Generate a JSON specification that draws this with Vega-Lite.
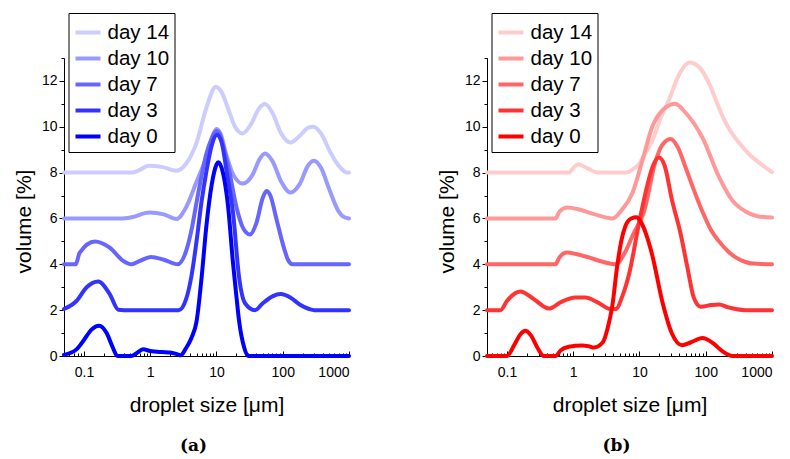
{
  "$schema": "https://vega.github.io/schema/vega-lite/v6.json",
  "padding": {"left": 13, "top": 12, "right": 5, "bottom": 5},
  "spacing": 79,
  "config": {
    "view": {"stroke": null},
    "font": "Liberation Sans",
    "axis": {"grid": false, "domainColor": "black", "tickColor": "black", "labelColor": "black", "titleColor": "black", "labelFontSize": 14, "titleFontSize": 21, "titleFontWeight": "normal", "labelFont": "Liberation Sans", "titleFont": "Liberation Sans"},
    "legend": {"labelFont": "Liberation Sans"}
  },
  "datasets": {
    "a": [
      {"day":"day 14","x":0.05,"y":8.0},{"day":"day 14","x":0.52,"y":8.0},{"day":"day 14","x":0.7,"y":8.12},{"day":"day 14","x":0.93,"y":8.3},{"day":"day 14","x":1.5,"y":8.25},{"day":"day 14","x":2.46,"y":8.08},{"day":"day 14","x":3.5,"y":8.4},{"day":"day 14","x":5,"y":9.3},{"day":"day 14","x":7,"y":10.8},{"day":"day 14","x":9.8,"y":11.75},{"day":"day 14","x":12,"y":11.5},{"day":"day 14","x":15.4,"y":10.7},{"day":"day 14","x":19,"y":10.0},{"day":"day 14","x":24.8,"y":9.71},{"day":"day 14","x":33,"y":10.1},{"day":"day 14","x":44,"y":10.8},{"day":"day 14","x":54,"y":10.99},{"day":"day 14","x":70,"y":10.6},{"day":"day 14","x":95,"y":9.7},{"day":"day 14","x":131,"y":9.31},{"day":"day 14","x":180,"y":9.6},{"day":"day 14","x":240,"y":9.95},{"day":"day 14","x":290,"y":10.0},{"day":"day 14","x":380,"y":9.7},{"day":"day 14","x":520,"y":8.9},{"day":"day 14","x":700,"y":8.3},{"day":"day 14","x":940,"y":8.0},{"day":"day 14","x":1000,"y":8.0},
      {"day":"day 10","x":0.05,"y":6.0},{"day":"day 10","x":0.37,"y":6.0},{"day":"day 10","x":0.52,"y":6.05},{"day":"day 10","x":0.97,"y":6.26},{"day":"day 10","x":1.6,"y":6.18},{"day":"day 10","x":2.5,"y":5.98},{"day":"day 10","x":3.5,"y":6.5},{"day":"day 10","x":5,"y":7.6},{"day":"day 10","x":7,"y":8.66},{"day":"day 10","x":8.5,"y":9.5},{"day":"day 10","x":10,"y":9.9},{"day":"day 10","x":11.5,"y":9.7},{"day":"day 10","x":14,"y":8.8},{"day":"day 10","x":18,"y":7.9},{"day":"day 10","x":25,"y":7.52},{"day":"day 10","x":35,"y":7.9},{"day":"day 10","x":45,"y":8.6},{"day":"day 10","x":54,"y":8.83},{"day":"day 10","x":70,"y":8.5},{"day":"day 10","x":95,"y":7.6},{"day":"day 10","x":131,"y":7.13},{"day":"day 10","x":180,"y":7.5},{"day":"day 10","x":240,"y":8.3},{"day":"day 10","x":294,"y":8.52},{"day":"day 10","x":380,"y":8.2},{"day":"day 10","x":500,"y":7.3},{"day":"day 10","x":700,"y":6.3},{"day":"day 10","x":850,"y":6.05},{"day":"day 10","x":1000,"y":6.0},
      {"day":"day 7","x":0.05,"y":4.0},{"day":"day 7","x":0.075,"y":4.0},{"day":"day 7","x":0.086,"y":4.5},{"day":"day 7","x":0.146,"y":5.0},{"day":"day 7","x":0.245,"y":4.73},{"day":"day 7","x":0.39,"y":4.15},{"day":"day 7","x":0.52,"y":4.0},{"day":"day 7","x":0.7,"y":4.15},{"day":"day 7","x":1.03,"y":4.32},{"day":"day 7","x":1.6,"y":4.2},{"day":"day 7","x":2.6,"y":4.0},{"day":"day 7","x":3.5,"y":4.6},{"day":"day 7","x":4.2,"y":5.5},{"day":"day 7","x":5,"y":6.7},{"day":"day 7","x":6,"y":7.9},{"day":"day 7","x":7,"y":8.8},{"day":"day 7","x":8.5,"y":9.5},{"day":"day 7","x":10,"y":9.82},{"day":"day 7","x":11.5,"y":9.6},{"day":"day 7","x":13,"y":9.0},{"day":"day 7","x":15,"y":8.3},{"day":"day 7","x":20,"y":6.5},{"day":"day 7","x":25,"y":5.6},{"day":"day 7","x":32,"y":5.3},{"day":"day 7","x":40,"y":5.8},{"day":"day 7","x":50,"y":6.9},{"day":"day 7","x":57,"y":7.2},{"day":"day 7","x":65,"y":7.0},{"day":"day 7","x":80,"y":6.0},{"day":"day 7","x":100,"y":4.9},{"day":"day 7","x":120,"y":4.2},{"day":"day 7","x":141,"y":4.0},{"day":"day 7","x":1000,"y":4.0},
      {"day":"day 3","x":0.05,"y":2.05},{"day":"day 3","x":0.077,"y":2.4},{"day":"day 3","x":0.11,"y":3.0},{"day":"day 3","x":0.164,"y":3.25},{"day":"day 3","x":0.245,"y":2.7},{"day":"day 3","x":0.33,"y":2.02},{"day":"day 3","x":0.4,"y":2.0},{"day":"day 3","x":2.7,"y":2.0},{"day":"day 3","x":3.5,"y":2.5},{"day":"day 3","x":4.2,"y":3.5},{"day":"day 3","x":5,"y":5.0},{"day":"day 3","x":6,"y":6.8},{"day":"day 3","x":7,"y":8.0},{"day":"day 3","x":8.5,"y":9.2},{"day":"day 3","x":10.2,"y":9.65},{"day":"day 3","x":12,"y":9.3},{"day":"day 3","x":14.5,"y":7.9},{"day":"day 3","x":17.7,"y":6.3},{"day":"day 3","x":22,"y":3.4},{"day":"day 3","x":27,"y":2.3},{"day":"day 3","x":38,"y":2.0},{"day":"day 3","x":50,"y":2.3},{"day":"day 3","x":70,"y":2.6},{"day":"day 3","x":93,"y":2.7},{"day":"day 3","x":130,"y":2.55},{"day":"day 3","x":180,"y":2.25},{"day":"day 3","x":250,"y":2.05},{"day":"day 3","x":300,"y":2.0},{"day":"day 3","x":1000,"y":2.0},
      {"day":"day 0","x":0.05,"y":0.05},{"day":"day 0","x":0.078,"y":0.3},{"day":"day 0","x":0.1,"y":0.7},{"day":"day 0","x":0.13,"y":1.15},{"day":"day 0","x":0.17,"y":1.32},{"day":"day 0","x":0.22,"y":1.0},{"day":"day 0","x":0.27,"y":0.4},{"day":"day 0","x":0.32,"y":0.0},{"day":"day 0","x":0.52,"y":0.0},{"day":"day 0","x":0.62,"y":0.12},{"day":"day 0","x":0.78,"y":0.29},{"day":"day 0","x":1.0,"y":0.22},{"day":"day 0","x":1.5,"y":0.17},{"day":"day 0","x":2.0,"y":0.15},{"day":"day 0","x":2.6,"y":0.07},{"day":"day 0","x":2.9,"y":0.03},{"day":"day 0","x":3.4,"y":0.3},{"day":"day 0","x":4.2,"y":0.8},{"day":"day 0","x":5,"y":1.5},{"day":"day 0","x":6,"y":3.5},{"day":"day 0","x":7,"y":5.6},{"day":"day 0","x":8.5,"y":7.5},{"day":"day 0","x":10,"y":8.35},{"day":"day 0","x":10.7,"y":8.45},{"day":"day 0","x":12.5,"y":8.0},{"day":"day 0","x":15,"y":6.5},{"day":"day 0","x":17.7,"y":4.1},{"day":"day 0","x":20,"y":2.6},{"day":"day 0","x":22,"y":1.5},{"day":"day 0","x":26,"y":0.4},{"day":"day 0","x":30,"y":0.0},{"day":"day 0","x":1000,"y":0.0}
    ],
    "b": [
      {"day":"day 14","x":0.05,"y":8.0},{"day":"day 14","x":0.86,"y":8.0},{"day":"day 14","x":1.0,"y":8.2},{"day":"day 14","x":1.2,"y":8.37},{"day":"day 14","x":1.6,"y":8.2},{"day":"day 14","x":2.4,"y":8.0},{"day":"day 14","x":6.2,"y":8.0},{"day":"day 14","x":8,"y":8.15},{"day":"day 14","x":9.8,"y":8.37},{"day":"day 14","x":12,"y":8.8},{"day":"day 14","x":15.6,"y":9.4},{"day":"day 14","x":21,"y":10.4},{"day":"day 14","x":28,"y":11.2},{"day":"day 14","x":40,"y":12.3},{"day":"day 14","x":57,"y":12.8},{"day":"day 14","x":80,"y":12.6},{"day":"day 14","x":112,"y":11.9},{"day":"day 14","x":150,"y":11.0},{"day":"day 14","x":190,"y":10.3},{"day":"day 14","x":254,"y":9.68},{"day":"day 14","x":330,"y":9.25},{"day":"day 14","x":453,"y":8.8},{"day":"day 14","x":700,"y":8.35},{"day":"day 14","x":1000,"y":8.02},
      {"day":"day 10","x":0.05,"y":6.0},{"day":"day 10","x":0.54,"y":6.0},{"day":"day 10","x":0.62,"y":6.3},{"day":"day 10","x":0.81,"y":6.48},{"day":"day 10","x":1.2,"y":6.4},{"day":"day 10","x":2,"y":6.2},{"day":"day 10","x":3.9,"y":6.0},{"day":"day 10","x":5.5,"y":6.4},{"day":"day 10","x":7.8,"y":7.1},{"day":"day 10","x":11,"y":8.5},{"day":"day 10","x":15.6,"y":10.0},{"day":"day 10","x":22,"y":10.7},{"day":"day 10","x":34.4,"y":11.0},{"day":"day 10","x":50,"y":10.6},{"day":"day 10","x":89,"y":9.53},{"day":"day 10","x":159,"y":7.8},{"day":"day 10","x":250,"y":6.8},{"day":"day 10","x":400,"y":6.3},{"day":"day 10","x":600,"y":6.1},{"day":"day 10","x":1000,"y":6.04},
      {"day":"day 7","x":0.05,"y":4.0},{"day":"day 7","x":0.54,"y":4.0},{"day":"day 7","x":0.62,"y":4.3},{"day":"day 7","x":0.81,"y":4.51},{"day":"day 7","x":1.1,"y":4.45},{"day":"day 7","x":1.72,"y":4.3},{"day":"day 7","x":2.7,"y":4.12},{"day":"day 7","x":4.36,"y":4.0},{"day":"day 7","x":6,"y":4.5},{"day":"day 7","x":8,"y":5.3},{"day":"day 7","x":11.7,"y":6.3},{"day":"day 7","x":17.5,"y":8.5},{"day":"day 7","x":22,"y":9.2},{"day":"day 7","x":29.6,"y":9.47},{"day":"day 7","x":38,"y":9.1},{"day":"day 7","x":50,"y":8.2},{"day":"day 7","x":65,"y":7.3},{"day":"day 7","x":89,"y":6.3},{"day":"day 7","x":120,"y":5.5},{"day":"day 7","x":159,"y":5.0},{"day":"day 7","x":220,"y":4.55},{"day":"day 7","x":283,"y":4.3},{"day":"day 7","x":400,"y":4.1},{"day":"day 7","x":510,"y":4.03},{"day":"day 7","x":1000,"y":4.0},
      {"day":"day 3","x":0.05,"y":2.0},{"day":"day 3","x":0.08,"y":2.0},{"day":"day 3","x":0.1,"y":2.4},{"day":"day 3","x":0.16,"y":2.81},{"day":"day 3","x":0.25,"y":2.5},{"day":"day 3","x":0.43,"y":2.07},{"day":"day 3","x":0.65,"y":2.35},{"day":"day 3","x":1.08,"y":2.55},{"day":"day 3","x":1.53,"y":2.55},{"day":"day 3","x":2.3,"y":2.35},{"day":"day 3","x":3.66,"y":2.05},{"day":"day 3","x":4.4,"y":2.05},{"day":"day 3","x":5.5,"y":2.6},{"day":"day 3","x":7,"y":3.6},{"day":"day 3","x":10,"y":5.9},{"day":"day 3","x":13,"y":7.4},{"day":"day 3","x":16,"y":8.3},{"day":"day 3","x":19.7,"y":8.66},{"day":"day 3","x":24,"y":8.3},{"day":"day 3","x":31,"y":6.8},{"day":"day 3","x":42,"y":5.3},{"day":"day 3","x":53,"y":3.85},{"day":"day 3","x":66,"y":2.55},{"day":"day 3","x":84,"y":2.15},{"day":"day 3","x":120,"y":2.22},{"day":"day 3","x":159,"y":2.25},{"day":"day 3","x":220,"y":2.12},{"day":"day 3","x":283,"y":2.05},{"day":"day 3","x":400,"y":2.0},{"day":"day 3","x":1000,"y":2.0},
      {"day":"day 0","x":0.05,"y":0.0},{"day":"day 0","x":0.1,"y":0.0},{"day":"day 0","x":0.13,"y":0.5},{"day":"day 0","x":0.16,"y":0.95},{"day":"day 0","x":0.19,"y":1.1},{"day":"day 0","x":0.23,"y":0.9},{"day":"day 0","x":0.29,"y":0.35},{"day":"day 0","x":0.36,"y":0.0},{"day":"day 0","x":0.54,"y":0.0},{"day":"day 0","x":0.65,"y":0.25},{"day":"day 0","x":0.86,"y":0.4},{"day":"day 0","x":1.36,"y":0.46},{"day":"day 0","x":1.7,"y":0.43},{"day":"day 0","x":2.05,"y":0.37},{"day":"day 0","x":2.8,"y":0.6},{"day":"day 0","x":3.3,"y":1.2},{"day":"day 0","x":3.9,"y":2.2},{"day":"day 0","x":4.6,"y":3.9},{"day":"day 0","x":5.3,"y":5.0},{"day":"day 0","x":6.2,"y":5.7},{"day":"day 0","x":7.5,"y":6.0},{"day":"day 0","x":9.0,"y":6.05},{"day":"day 0","x":10.5,"y":5.85},{"day":"day 0","x":13,"y":5.2},{"day":"day 0","x":15.6,"y":4.4},{"day":"day 0","x":22,"y":2.4},{"day":"day 0","x":31,"y":0.97},{"day":"day 0","x":44,"y":0.47},{"day":"day 0","x":60,"y":0.6},{"day":"day 0","x":89,"y":0.78},{"day":"day 0","x":130,"y":0.55},{"day":"day 0","x":180,"y":0.2},{"day":"day 0","x":254,"y":0.0},{"day":"day 0","x":1000,"y":0.0}
    ]
  },
  "hconcat": [
    {
      "width": 285, "height": 298,
      "data": {"name": "a"},
      "title": {"text": "(a)", "orient": "bottom", "font": "DejaVu Serif", "fontWeight": "bold", "fontSize": 17, "frame": "group", "anchor": "middle", "dx": -13, "offset": 23, "color": "black"},
      "layer": [
        {
          "mark": {"type": "line", "interpolate": "monotone", "strokeWidth": 4, "strokeCap": "round"},
          "encoding": {
            "x": {"field": "x", "type": "quantitative", "scale": {"type": "log", "domain": [0.05, 1000], "nice": false}, "axis": {"values": [0.1, 1, 10, 100, 1000], "format": "~g", "title": "droplet size [μm]", "tickSize": -5, "labelPadding": 14, "titleY": 55, "titleBaseline": "alphabetic"}},
            "y": {"field": "y", "type": "quantitative", "scale": {"domain": [0, 13], "nice": false}, "axis": {"values": [0, 2, 4, 6, 8, 10, 12], "title": "volume [%]", "tickSize": 5, "titleX": -34, "titleY": 163, "titleAngle": 270, "titleAlign": "center", "titleBaseline": "alphabetic"}},
            "color": {"field": "day", "type": "nominal", "scale": {"domain": ["day 14", "day 10", "day 7", "day 3", "day 0"], "range": ["#ccccff", "#9999ff", "#6666ff", "#3333ff", "#0000ff"]},
              "legend": {"orient": "none", "legendX": 4.5, "legendY": -45, "title": null, "symbolType": "stroke", "symbolStrokeWidth": 4, "symbolSize": 625, "labelFontSize": 20.5, "strokeColor": "black", "fillColor": "white", "padding": 5, "rowPadding": 1, "labelOffset": 5}}
          }
        },
        {
          "mark": {"type": "line", "opacity": 0},
          "encoding": {
            "x": {"field": "x", "type": "quantitative", "axis": {"orient": "bottom", "values": [0.06,0.07,0.08,0.09,0.2,0.3,0.4,0.5,0.6,0.7,0.8,0.9,2,3,4,5,6,7,8,9,20,30,40,50,60,70,80,90,200,300,400,500,600,700,800,900], "labels": false, "domain": false, "tickSize": -3, "title": null}},
            "y": {"field": "y", "type": "quantitative", "axis": {"orient": "left", "values": [1, 3, 5, 7, 9, 11, 13], "labels": false, "domain": false, "tickSize": 3, "title": null}},
            "detail": {"field": "day"}
          }
        }
      ],
      "resolve": {"axis": {"x": "independent", "y": "independent"}}
    },
    {
      "width": 285, "height": 298,
      "data": {"name": "b"},
      "title": {"text": "(b)", "orient": "bottom", "font": "DejaVu Serif", "fontWeight": "bold", "fontSize": 17, "frame": "group", "anchor": "middle", "dx": -13, "offset": 23, "color": "black"},
      "layer": [
        {
          "mark": {"type": "line", "interpolate": "monotone", "strokeWidth": 4, "strokeCap": "round"},
          "encoding": {
            "x": {"field": "x", "type": "quantitative", "scale": {"type": "log", "domain": [0.05, 1000], "nice": false}, "axis": {"values": [0.1, 1, 10, 100, 1000], "format": "~g", "title": "droplet size [μm]", "tickSize": -5, "labelPadding": 14, "titleY": 55, "titleBaseline": "alphabetic"}},
            "y": {"field": "y", "type": "quantitative", "scale": {"domain": [0, 13], "nice": false}, "axis": {"values": [0, 2, 4, 6, 8, 10, 12], "title": "volume [%]", "tickSize": 5, "titleX": -34, "titleY": 163, "titleAngle": 270, "titleAlign": "center", "titleBaseline": "alphabetic"}},
            "color": {"field": "day", "type": "nominal", "scale": {"domain": ["day 14", "day 10", "day 7", "day 3", "day 0"], "range": ["#ffcccc", "#ff9999", "#ff6666", "#ff3333", "#ff0000"]},
              "legend": {"orient": "none", "legendX": 4.5, "legendY": -45, "title": null, "symbolType": "stroke", "symbolStrokeWidth": 4, "symbolSize": 625, "labelFontSize": 20.5, "strokeColor": "black", "fillColor": "white", "padding": 5, "rowPadding": 1, "labelOffset": 5}}
          }
        },
        {
          "mark": {"type": "line", "opacity": 0},
          "encoding": {
            "x": {"field": "x", "type": "quantitative", "axis": {"orient": "bottom", "values": [0.06,0.07,0.08,0.09,0.2,0.3,0.4,0.5,0.6,0.7,0.8,0.9,2,3,4,5,6,7,8,9,20,30,40,50,60,70,80,90,200,300,400,500,600,700,800,900], "labels": false, "domain": false, "tickSize": -3, "title": null}},
            "y": {"field": "y", "type": "quantitative", "axis": {"orient": "left", "values": [1, 3, 5, 7, 9, 11, 13], "labels": false, "domain": false, "tickSize": 3, "title": null}},
            "detail": {"field": "day"}
          }
        }
      ],
      "resolve": {"axis": {"x": "independent", "y": "independent"}}
    }
  ],
  "resolve": {"scale": {"color": "independent"}}
}
